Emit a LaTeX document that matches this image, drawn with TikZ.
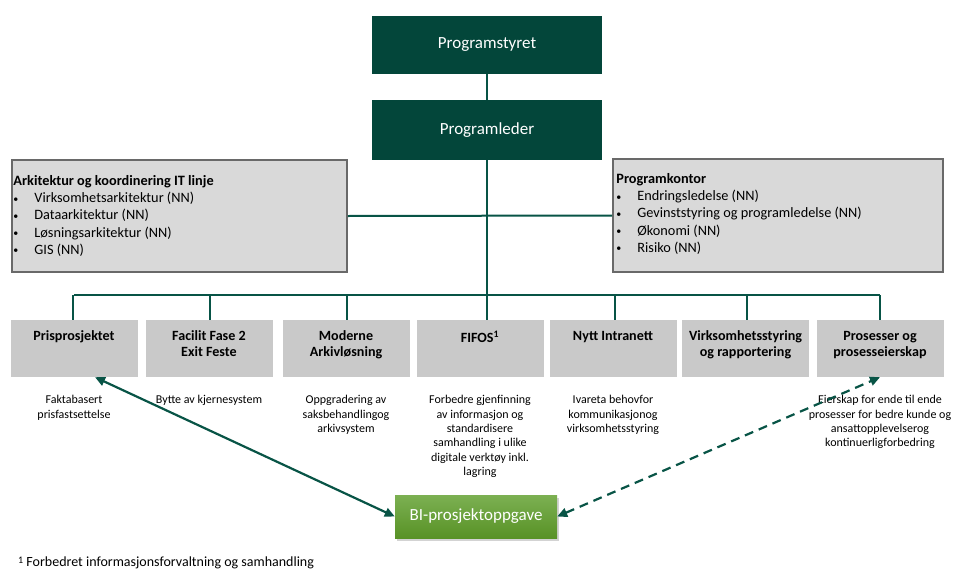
\documentclass[tikz,border=0pt]{standalone}
\usepackage{fontspec}
\setmainfont{Carlito}
\usetikzlibrary{arrows.meta,shadows}

\definecolor{leadgreen}{RGB}{3,70,58}
\definecolor{linegreen}{RGB}{8,84,70}
\definecolor{infogray}{RGB}{217,217,217}
\definecolor{infoedge}{RGB}{105,105,105}
\definecolor{projgray}{RGB}{201,201,201}
\definecolor{bitop}{RGB}{124,176,82}
\definecolor{bibottom}{RGB}{88,146,38}

\newcommand\bitem{\makebox[21pt][l]{\raisebox{0.5pt}{\fontsize{10}{10}\selectfont\textbullet}}}

\tikzset{
  lead/.style={fill=leadgreen, text=white, minimum width=230pt, minimum height=58pt,
    inner sep=0pt, font=\fontsize{17}{20}\selectfont},
  infobox/.style={draw=infoedge, line width=1.6pt, fill=infogray, inner sep=0pt},
  infotext/.style={anchor=north west, align=left, inner sep=0pt,
    font=\fontsize{14.3}{17.2}\selectfont},
  projbox/.style={fill=projgray, minimum width=127pt, minimum height=57pt, inner sep=0pt},
  projtitle/.style={anchor=north, align=center, inner sep=0pt,
    font=\bfseries\fontsize{14.1}{16}\selectfont},
  projdesc/.style={anchor=north, align=center, inner sep=0pt,
    font=\fontsize{12}{14.4}\selectfont},
  orgline/.style={draw=linegreen, line width=2pt},
  tiplink/.style={draw=linegreen, line width=2.2pt,
    {Triangle[length=10pt,width=9pt]}-{Triangle[length=10pt,width=9pt]}},
  bibox/.style={top color=bitop, bottom color=bibottom, text=white,
    minimum width=162pt, minimum height=43pt, inner sep=0pt,
    font=\fontsize{17}{20}\selectfont,
    drop shadow={shadow xshift=1.5pt, shadow yshift=-2.5pt, opacity=0.35}}
}

\begin{document}
\begin{tikzpicture}[x=1pt,y=-1pt]
\useasboundingbox (0,0) rectangle (974,570);

% management
\node[lead] (styret) at (487,45) {Programstyret};
\node[lead, minimum height=60pt] (leder) at (487,130) {Programleder};

% staff boxes
\node[infobox, minimum width=335pt, minimum height=112pt] (arkitektur) at (179.5,216) {};
\node[infobox, minimum width=330pt, minimum height=113pt] (kontor) at (778,215.5) {};

\node[infotext] (arktext) at ([shift={(2,16)}]arkitektur.north west)
  {\textbf{Arkitektur og koordinering IT linje}\\
   \bitem Virksomhetsarkitektur (NN)\\
   \bitem Dataarkitektur (NN)\\
   \bitem Løsningsarkitektur (NN)\\
   \bitem GIS (NN)};
\node[infotext] (kontext) at ([shift={(4,15)}]kontor.north west)
  {\textbf{Programkontor}\\
   \bitem Endringsledelse (NN)\\
   \bitem Gevinststyring og programledelse (NN)\\
   \bitem Økonomi (NN)\\
   \bitem Risiko (NN)};

% projects
\node[projbox] (p1) at (74,348.5) {};
\node[projbox] (p2) at (209,348.5) {};
\node[projbox] (p3) at (346,348.5) {};
\node[projbox] (p4) at (480,348.5) {};
\node[projbox] (p5) at (613,348.5) {};
\node[projbox] (p6) at (745.5,348.5) {};
\node[projbox] (p7) at (880,348.5) {};

\node[projtitle] (t1) at ([yshift=-11pt]p1.north) {Prisprosjektet};
\node[projtitle] (t2) at ([yshift=-11pt]p2.north) {Facilit Fase 2\\Exit Feste};
\node[projtitle] (t3) at ([yshift=-11pt]p3.north) {Moderne\\Arkivløsning};
\node[projtitle] (t4) at ([yshift=-11pt]p4.north) {FIFOS\textsuperscript{1}};
\node[projtitle] (t5) at ([yshift=-11pt]p5.north) {Nytt Intranett};
\node[projtitle] (t6) at ([yshift=-11pt]p6.north) {Virksomhetsstyring\\og rapportering};
\node[projtitle] (t7) at ([yshift=-11pt]p7.north) {Prosesser og\\prosesseierskap};

\node[projdesc] (d1) at ([yshift=-18pt]p1.south) {Faktabasert\\prisfastsettelse};
\node[projdesc] (d2) at ([yshift=-18pt]p2.south) {Bytte av kjernesystem};
\node[projdesc] (d3) at ([yshift=-18pt]p3.south) {Oppgradering av\\saksbehandlingog\\arkivsystem};
\node[projdesc] (d4) at ([yshift=-18pt]p4.south) {Forbedre gjenfinning\\av informasjon og\\standardisere\\samhandling i ulike\\digitale verktøy inkl.\\lagring};
\node[projdesc] (d5) at ([yshift=-18pt]p5.south) {Ivareta behovfor\\kommunikasjonog\\virksomhetsstyring};
\node[projdesc] (d7) at ([yshift=-18pt]p7.south) {Eierskap for ende til ende\\prosesser for bedre kunde og\\ansattopplevelserog\\kontinuerligforbedring};

% student project
\node[bibox] (bi) at (476,516.5) {BI-prosjektoppgave};

% organisation lines
\coordinate (bus) at (487,295);
\draw[orgline] (styret.south) -- (leder.north);
\draw[orgline] (leder.south) -- (leder.south |- p4.north);
\draw[orgline] (arkitektur.east) -- (kontor.west);
\draw[orgline] (p1.north |- bus) -- (p7.north |- bus);
\foreach \p/\dx in {p1/-1,p2/1,p3/1,p5/2,p6/1.5,p7/0}
  \draw[orgline] ([xshift=\dx pt]\p.north) -- ([xshift=\dx pt]\p.north |- bus);

% links to the student project
\draw[tiplink] (bi.west) -- ([xshift=21pt]p1.south);
\draw[tiplink, dash pattern=on 9pt off 6pt] (bi.east) -- (p7.south);

% footnote
\node[anchor=base west, inner sep=0pt, font=\fontsize{14}{16}\selectfont] (note) at (18,566)
  {\raisebox{2.5pt}{\fontsize{10}{10}\selectfont 1} Forbedret informasjonsforvaltning og samhandling};
\end{tikzpicture}
\end{document}
